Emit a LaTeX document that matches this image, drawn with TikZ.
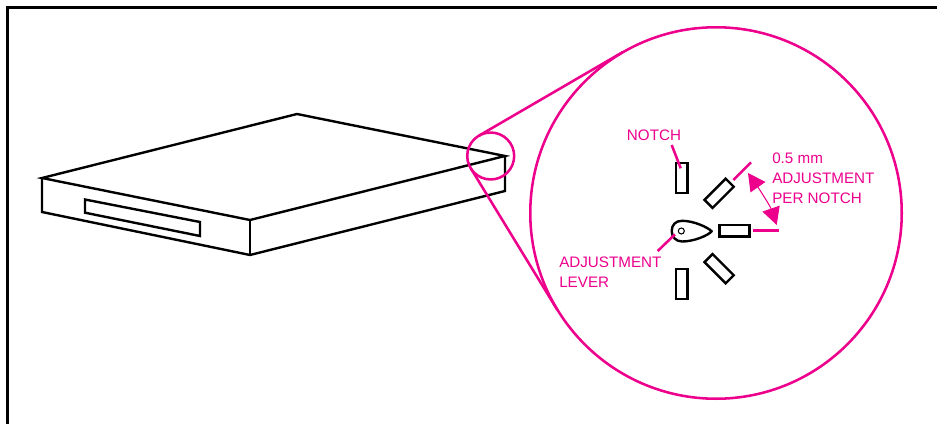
\documentclass[tikz,border=0pt]{standalone}
\usepackage{fontspec}
\setmainfont{Liberation Sans}
\usetikzlibrary{arrows.meta}
\definecolor{pinkline}{HTML}{EC008C}
\tikzset{
	outline/.style={draw=black,line width=1.8pt,line join=miter},
	pink/.style={draw=pinkline,line width=1.9pt},
	notch/.style={shape=rectangle,draw=black,line width=1.8pt,minimum width=22.5pt,minimum height=8.6pt,inner sep=0pt},
	callout/.style={text=pinkline,inner sep=0pt,anchor=base west,align=left,font=\fontsize{11.4}{15}\selectfont},
	span/.style={{Triangle[length=13pt,width=13.5pt]}-{Triangle[length=13pt,width=13.5pt]},draw=pinkline,line width=0.8pt},
}
\begin{document}
\begin{tikzpicture}[x=0.75pt,y=-0.75pt]
	\useasboundingbox (0,0) rectangle (937,424);
	\coordinate (frameA) at (7.5,424);
	\coordinate (frameB) at (7.5,7.5);
	\coordinate (frameC) at (937,7.5);
	\draw[draw=black,line width=2.4pt,line join=miter] (frameA) -- (frameB) -- (frameC);

	\coordinate (left) at (42,178);
	\coordinate (back) at (297,114);
	\coordinate (right) at (505,156);
	\coordinate (front) at (250,220);
	\coordinate (leftlow) at (42,212);
	\coordinate (frontlow) at (250,255);
	\coordinate (rightlow) at (505,191);

	\coordinate (slotA) at (85,199.5);
	\coordinate (slotB) at (200,222);
	\coordinate (slotC) at (200,236);
	\coordinate (slotD) at (85,212.7);

	\draw[outline] (left) -- (back) -- (right) -- (front) -- cycle;
	\draw[outline] (left) -- (leftlow) -- (frontlow) -- (rightlow) -- (right);
	\draw[outline] (front) -- (frontlow);
	\draw[outline] (slotA) -- (slotB) -- (slotC) -- (slotD) -- cycle;

	\node[shape=circle,pink,minimum size=35.2pt,inner sep=0pt] (small) at (490.7,156) {};
	\node[shape=circle,pink,minimum size=278.6pt,inner sep=0pt] (big) at (716,213) {};

	\coordinate (tanA) at (478.9,135.7);
	\coordinate (tanB) at (622.4,52.3);
	\coordinate (tanC) at (470.7,168.2);
	\coordinate (tanD) at (557.3,309.9);
	\draw[pink] (tanA) -- (tanB);
	\draw[pink] (tanC) -- (tanD);

	\node[notch,rotate=90] (top) at (681.7,177.7) {};
	\node[notch,rotate=45] (upper) at (719.1,193.3) {};
	\node[notch] (mid) at (734.6,230.8) {};
	\node[notch,rotate=-45] (lower) at (719.1,268.7) {};
	\node[notch,rotate=90] (bottom) at (681.8,284) {};

	\coordinate (tip) at (711.7,231.3);
	\coordinate (pivot) at (681.3,231);
	\draw[outline,line join=round] (tip) .. controls (708,227.5) and (694,220.8) .. (682,220.8)
		.. controls (675.5,220.8) and (671.7,225) .. (671.7,231)
		.. controls (671.7,237) and (676,241.5) .. (682,241.5)
		.. controls (694,241.5) and (708,235.5) .. (tip) -- cycle;
	\node[shape=circle,draw=black,line width=0.8pt,minimum size=4.5pt,inner sep=0pt] (hole) at (pivot) {};

	\coordinate (notchA) at (671.7,145);
	\coordinate (notchB) at (680.7,168.3);
	\coordinate (leverA) at (657.7,251);
	\coordinate (leverB) at (675,234.3);
	\coordinate (tickA) at (733.3,180);
	\coordinate (tickB) at (751,162.3);
	\coordinate (tickC) at (753.3,230.7);
	\coordinate (tickD) at (779.3,230.7);
	\coordinate (arcA) at (748,173);
	\coordinate (arcB) at (776.7,225);
	\coordinate (arcC) at (759.5,189.4);
	\coordinate (arcD) at (770.2,206.1);
	\draw[pink] (notchA) -- (notchB);
	\draw[pink] (leverA) -- (leverB);
	\draw[pink] (tickA) -- (tickB);
	\draw[pink] (tickC) -- (tickD);
	\draw[span] (arcA) .. controls (arcC) and (arcD) .. (arcB);

	\node[callout] (notchtext) at (626.7,140.5) {NOTCH};
	\node[callout] (levertext) at (559,287.3) {ADJUSTMENT\\LEVER};
	\node[callout] (pertext) at (772,203.3) {0.5 mm\\ADJUSTMENT\\PER NOTCH};
\end{tikzpicture}
\end{document}
